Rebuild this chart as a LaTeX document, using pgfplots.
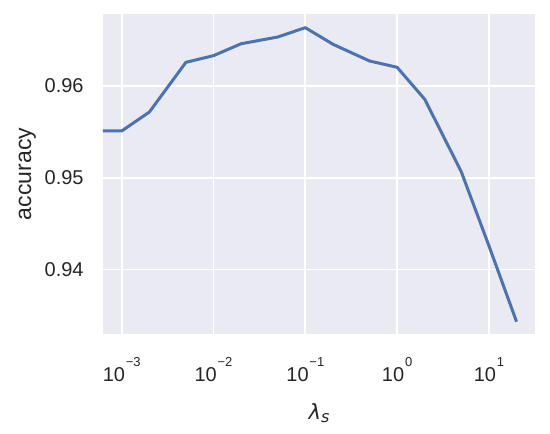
\documentclass[border=0pt]{standalone}
\usepackage{fontspec}
\setmainfont{Liberation Sans}
\newfontfamily\djv{DejaVu Sans}
\usepackage{pgfplots}
\pgfplotsset{compat=1.18}
\definecolor{sbbg}{HTML}{EAEAF2}
\definecolor{sbblue}{HTML}{4C72B0}
\definecolor{sbtext}{HTML}{262626}
\newcommand{\tensup}[1]{10\hspace{0.4pt}\raisebox{7.85pt}{\fontsize{6.5}{7}\selectfont #1}}
\begin{document}
\begin{tikzpicture}
\path[use as bounding box] (-51.5pt,-49.5pt) rectangle (223.5pt,167pt);
\begin{axis}[
  scale only axis,
  width=216pt, height=160pt,
  xmode=log,
  xmin=6.25e-4, xmax=31.77,
  ymin=0.93296, ymax=0.96785,
  axis background/.style={fill=sbbg},
  axis line style={draw=none},
  major tick length=0pt, minor tick length=0pt,
  grid=major,
  major grid style={white, line width=0.85pt},
  xtick={0.001,0.01,0.1,1,10},
  xticklabels={\tensup{−3},\tensup{−2},\tensup{−1},\tensup{0},\tensup{1}},
  ytick={0.94,0.95,0.96},
  yticklabels={0.94,0.95,0.96},
  minor xtick={},
  xminorgrids=false,
  ticklabel style={text=sbtext, font=\fontsize{10}{12}\selectfont, inner sep=0pt},
  yticklabel style={anchor=east, xshift=-9.5pt},
  xticklabel style={anchor=north, yshift=-11.35pt},
  xlabel={{\djv\itshape λ}\raisebox{-1.35pt}{\djv\itshape\fontsize{8}{9}\selectfont s}},
  ylabel={accuracy},
  xlabel style={at={(axis description cs:0.5,0)}, anchor=north, yshift=-34.65pt, inner sep=0pt, text=sbtext, font=\fontsize{10.5}{12}\selectfont},
  ylabel style={at={(axis description cs:-0.196,0.5)}, anchor=north, inner sep=0pt, text=sbtext, font=\fontsize{11.5}{13}\selectfont},
  clip=true,
]
\addplot[sbblue, line width=1.5pt, line join=round] coordinates {
  (0.0005,0.9551)
  (0.001,0.9551)
  (0.002,0.95716)
  (0.005,0.96258)
  (0.01,0.96331)
  (0.02,0.96461)
  (0.05,0.96534)
  (0.1,0.96636)
  (0.2,0.96455)
  (0.5,0.96273)
  (1,0.96204)
  (2,0.95855)
  (5,0.95065)
  (10,0.94258)
  (20,0.93430)
};
\end{axis}
\end{tikzpicture}
\end{document}
